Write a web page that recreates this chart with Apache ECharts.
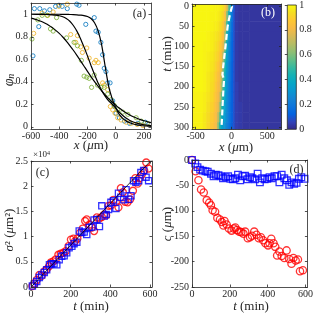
<!DOCTYPE html>
<html><head><meta charset="utf-8">
<script src="https://cdn.jsdelivr.net/npm/echarts@6/dist/echarts.min.js"></script>
<style>html,body{margin:0;padding:0;background:#fff}#c{width:316px;height:316px}</style>
</head><body><div id="c"></div>
<script>
// ---------- Panel (a): profiles ----------
const aBlueX = [-586,-576,-545,-538,-505,-467,-426,-402,-379,-343,-276,-260,-212,-152,-140,-124,-105,-93,-81,-69,-57,-40,-21,-10,2,26,62,98,157,210];
const aBlueY = [0.63,1.05,0.89,1.05,1.03,1.04,1.07,1.08,1.07,1.05,1.09,1.08,0.91,0.97,0.85,0.84,0.75,0.64,0.52,0.49,0.39,0.39,0.23,0.18,0.12,0.08,0.05,0.03,0.03,0.04];
const aOrangeX = [-581,-521,-481,-443,-402,-343,-319,-283,-271,-248,-236,-205,-188,-152,-140,-124,-93,-81,-57,-38,-21,-5,14,38,74,110,152,193];
const aOrangeY = [0.83,1.01,0.99,1.02,1.07,1.09,0.82,0.75,0.81,0.71,0.66,0.70,0.61,0.57,0.59,0.57,0.39,0.37,0.33,0.18,0.15,0.12,0.08,0.06,0.04,0.03,0.02,0.01];
const aGreenX = [-593,-552,-521,-486,-462,-443,-419,-348,-295,-271,-243,-224,-205,-188,-171,-152,-129,-105,-81,-57,-33,-10,14,50,86,145,181,224];
const aGreenY = [0.78,0.95,0.99,0.99,0.87,0.85,0.97,0.79,0.75,0.72,0.59,0.45,0.44,0.43,0.35,0.46,0.37,0.35,0.35,0.29,0.24,0.19,0.15,0.13,0.11,0.08,0.05,0.03];
const aFitX = [-600,-575,-550,-525,-500,-475,-450,-425,-400,-375,-350,-325,-300,-275,-250,-225,-200,-175,-150,-125,-100,-75,-50,-25,0,25,50,75,100,125,150,175,200,225,250];
const aFitAY = [1,1,1,1,1,1,1,1,1,0.999,0.999,0.998,0.997,0.995,0.992,0.988,0.98,0.962,0.925,0.855,0.73,0.54,0.36,0.25,0.17,0.11,0.075,0.05,0.035,0.024,0.016,0.011,0.008,0.006,0.004];
const aFitBY = [1,1,0.999,0.999,0.998,0.997,0.995,0.992,0.987,0.978,0.962,0.938,0.9,0.85,0.785,0.71,0.63,0.545,0.465,0.39,0.325,0.272,0.23,0.2,0.165,0.13,0.1,0.075,0.056,0.042,0.032,0.024,0.018,0.014,0.011];
const aFitCY = [0.965,0.957,0.947,0.935,0.92,0.903,0.882,0.857,0.83,0.798,0.762,0.722,0.68,0.635,0.588,0.54,0.492,0.446,0.402,0.36,0.32,0.283,0.25,0.22,0.192,0.166,0.143,0.123,0.105,0.089,0.075,0.063,0.053,0.044,0.037];
const aXTicks = [-600,-400,-200,0,200];
const aYTicks = [0,0.2,0.4,0.6,0.8,1];

// ---------- Panel (b): kymograph ----------
const bXEdges = [-550,-400,-350,-300,-250,-225,-200,-175,-150,-125,-100,-75,-50,-25,0,25,50,100,150,250,700];
const bTimes = [0,25,50,75,100,125,150,175,200,225,250,275,300];
const bPhi = [
 [0.99,0.99,0.99,0.99,0.98,0.98,0.98,0.97,0.96,0.94,0.88,0.78,0.58,0.40,0.22,0.09,0.04,0.03,0.03,0.03],
 [0.99,0.99,0.99,0.98,0.98,0.98,0.97,0.96,0.94,0.90,0.82,0.64,0.45,0.30,0.17,0.08,0.04,0.03,0.03,0.03],
 [0.99,0.99,0.99,0.98,0.97,0.97,0.96,0.94,0.91,0.85,0.74,0.52,0.37,0.25,0.15,0.08,0.04,0.03,0.03,0.03],
 [0.99,0.99,0.98,0.97,0.96,0.95,0.94,0.92,0.87,0.81,0.64,0.45,0.32,0.22,0.14,0.08,0.04,0.03,0.03,0.03],
 [0.99,0.98,0.98,0.97,0.95,0.94,0.92,0.89,0.84,0.76,0.56,0.40,0.29,0.20,0.13,0.08,0.04,0.03,0.03,0.03],
 [0.99,0.98,0.97,0.96,0.94,0.92,0.90,0.86,0.81,0.66,0.48,0.36,0.27,0.19,0.13,0.08,0.04,0.03,0.03,0.03],
 [0.99,0.98,0.97,0.95,0.93,0.90,0.87,0.83,0.78,0.58,0.43,0.33,0.25,0.18,0.12,0.08,0.04,0.03,0.03,0.03],
 [0.99,0.98,0.96,0.94,0.91,0.88,0.84,0.81,0.70,0.53,0.40,0.31,0.24,0.18,0.12,0.08,0.04,0.03,0.03,0.03],
 [0.99,0.98,0.96,0.93,0.90,0.86,0.82,0.80,0.66,0.50,0.38,0.30,0.23,0.17,0.12,0.08,0.05,0.03,0.03,0.03],
 [0.98,0.97,0.95,0.92,0.88,0.84,0.81,0.74,0.57,0.44,0.35,0.28,0.22,0.17,0.12,0.08,0.05,0.03,0.03,0.03],
 [0.98,0.97,0.94,0.90,0.86,0.82,0.79,0.66,0.49,0.40,0.33,0.27,0.21,0.16,0.12,0.08,0.05,0.04,0.03,0.03],
 [0.98,0.96,0.93,0.88,0.84,0.81,0.72,0.56,0.43,0.36,0.31,0.26,0.21,0.16,0.12,0.08,0.05,0.04,0.03,0.03],
 [0.98,0.96,0.92,0.86,0.82,0.80,0.64,0.46,0.37,0.32,0.28,0.24,0.20,0.15,0.11,0.08,0.05,0.04,0.03,0.03]
];
const bFrontT = [0,25,50,75,100,130,150,170,182,200,225,250,275,300];
const bFrontX = [10,-25,-52,-68,-82,-102,-115,-125,-102,-110,-117,-124,-130,-138];
const bXTicks = [-500,0,500];
const bYTicks = [0,50,100,150,200,250,300];
const cbTicks = [0,0.2,0.4,0.6,0.8,1];

// ---------- Panel (c): variance (x10^4 um^2) ----------
const cRedT = [7,17,29,42,54,67,79,91,101,113,125,138,150,163,175,189,201,214,222,234,248,261,273,281,295,307,318,332,345,357,369,379,391,403,416,428,441,453,463,475,487,500,514,526,538,548,559,571,581,593];
const cRedS = [0.02,0.07,0.14,0.24,0.22,0.31,0.35,0.41,0.49,0.51,0.55,0.64,0.66,0.68,0.71,0.81,0.94,0.96,0.91,0.96,1.08,1.16,1.31,1.34,1.24,1.18,1.11,1.38,1.36,1.39,1.44,1.42,1.61,1.62,1.73,1.68,1.58,1.96,1.88,1.69,1.68,1.74,1.91,2.16,2.05,2.16,2.23,2.31,2.47,2.35];
const cBlueT = [7,17,29,42,54,67,79,93,104,116,130,142,155,167,180,192,206,217,231,243,256,268,281,293,307,318,332,345,357,369,379,391,403,416,428,441,453,467,479,492,504,517,529,543,554,568,580,593];
const cBlueS = [0.02,0.06,0.11,0.19,0.24,0.29,0.34,0.44,0.46,0.46,0.44,0.54,0.61,0.62,0.68,0.78,0.81,0.86,0.89,1.11,1.08,1.09,1.04,1.18,1.19,1.33,1.34,1.20,1.61,1.41,1.44,1.54,1.68,1.71,1.56,1.86,1.78,1.73,1.93,1.74,1.81,2.11,2.08,2.11,2.27,2.31,2.18,2.11];
const cFitT = [0,610];
const cFitS = [0,2.53];
const cXTicks = [0,200,400,600];
const cYTicks = [0,0.5,1,1.5,2,2.5];

// ---------- Panel (d): centre position ----------
const dRedT = [0,19,34,48,62,78,91,100,109,122,134,148,157,166,172,183,195,209,221,229,238,250,260,272,281,295,307,317,329,341,353,364,376,388,402,410,419,431,440,450,462,474,488,500,514,526,536,548,560,571,586];
const dRedC = [0,-22,-40,-58,-64,-79,-84,-89,-99,-102,-114,-117,-122,-129,-120,-127,-135,-139,-135,-133,-138,-141,-142,-145,-141,-154,-152,-149,-141,-147,-154,-152,-158,-164,-168,-164,-155,-164,-171,-188,-180,-189,-193,-178,-195,-204,-193,-198,-196,-219,-217];
const dBlueT = [0,17,29,43,57,71,83,100,114,126,140,152,164,178,191,203,216,229,243,255,267,281,293,307,319,333,347,359,371,384,398,410,422,436,450,462,474,488,502,514,526,540,553,565,578,595];
const dBlueC = [0,-7,-14,-19,-21,-22,-23,-27,-32,-29,-30,-32,-36,-34,-32,-37,-38,-36,-29,-40,-32,-31,-38,-34,-36,-38,-27,-44,-36,-38,-37,-34,-36,-32,-32,-44,-29,-36,-40,-49,-44,-47,-45,-37,-34,-37];
const dXTicks = [0,200,400,600];
const dYTicks = [-250,-200,-150,-100,-50,0];

// ---------- styles ----------
const parula = ['#352A87','#3243BA','#0363E1','#0D75DC','#1485D4','#0998D1','#06A7C6','#15B1B4','#38B99E','#65BE86','#92BF73','#B7BD64','#D9BA56','#F8BB44','#FEC832','#F5DE21','#F9FB0E'];
const FONT = '"Liberation Serif", "Times New Roman", serif';
const AX = '#262626';
const zip = (xs, ys) => xs.map((v, i) => [v, ys[i]]);

function axis(gridIndex, min, max, ticks, position, labels, extra) {
  return Object.assign({
    type: 'value', gridIndex, min, max, position,
    axisLine: {show: true, onZero: false, lineStyle: {color: AX, width: 0.8}},
    axisTick: {show: true, inside: true, length: 2.5, customValues: ticks, lineStyle: {color: AX, width: 0.8}},
    axisLabel: {show: labels, customValues: ticks, fontFamily: FONT, fontSize: 10, color: AX,
      margin: (position === 'left' || position === 'right') ? 3 : 2},
    splitLine: {show: false}, z: 10
  }, extra || {});
}

const xAxis = [
  axis(0, -600, 250, aXTicks, 'bottom', true),
  axis(0, -600, 250, aXTicks, 'top', false),
  axis(1, -550, 700, bXTicks, 'bottom', true),
  axis(1, -550, 700, bXTicks, 'top', false),
  {type: 'value', gridIndex: 2, min: 0, max: 1, show: false},
  axis(3, 0, 610, cXTicks, 'bottom', true),
  axis(3, 0, 610, cXTicks, 'top', false),
  axis(4, 0, 610, dXTicks, 'bottom', true),
  axis(4, 0, 610, dXTicks, 'top', false)
];
const yAxis = [
  axis(0, -0.02, 1.1, aYTicks, 'left', true),
  axis(0, -0.02, 1.1, aYTicks, 'right', false),
  axis(1, -5, 305, bYTicks, 'left', true, {inverse: true}),
  axis(1, -5, 305, bYTicks, 'right', false, {inverse: true}),
  axis(2, 0, 1, cbTicks, 'right', true, {axisLine: {show: false}}),
  axis(3, 0, 2.5, cYTicks, 'left', true),
  axis(3, 0, 2.5, cYTicks, 'right', false),
  axis(4, -250, 0, dYTicks, 'left', true),
  axis(4, -250, 0, dYTicks, 'right', false)
];

const heatData = [];
bTimes.forEach((t, r) => {
  const half = (bTimes[1] - bTimes[0]) / 2;
  for (let j = 0; j < bXEdges.length - 1; j++) {
    heatData.push([bXEdges[j], bXEdges[j + 1], t - half, t + half, bPhi[r][j]]);
  }
});

function renderCell(params, api) {
  const a = api.coord([api.value(0), api.value(2)]);
  const b = api.coord([api.value(1), api.value(3)]);
  const cs = params.coordSys;
  const shape = echarts.graphic.clipRectByRect(
    {x: Math.min(a[0], b[0]), y: Math.min(a[1], b[1]), width: Math.abs(b[0] - a[0]) + 0.6, height: Math.abs(b[1] - a[1]) + 0.6},
    {x: cs.x, y: cs.y, width: cs.width, height: cs.height});
  return shape && {type: 'rect', shape, style: {fill: api.visual('color')}};
}
function renderBar(params, api) {
  const a = api.coord([api.value(0), api.value(2)]);
  const b = api.coord([api.value(1), api.value(3)]);
  const grad = new echarts.graphic.LinearGradient(0, 1, 0, 0,
    parula.map((c, i) => ({offset: i / (parula.length - 1), color: c})));
  return {type: 'rect', shape: {x: Math.min(a[0], b[0]), y: Math.min(a[1], b[1]), width: Math.abs(b[0] - a[0]), height: Math.abs(b[1] - a[1])},
    style: {fill: grad, stroke: AX, lineWidth: 0.8}};
}

function scat(data, xi, yi, color, symbol, size, bw) {
  return {type: 'scatter', xAxisIndex: xi, yAxisIndex: yi, data, symbol, symbolSize: size,
    itemStyle: {color: 'rgba(0,0,0,0)', borderColor: color, borderWidth: bw}, silent: true};
}
function fit(data, xi, yi, w) {
  return {type: 'line', xAxisIndex: xi, yAxisIndex: yi, data, showSymbol: false, symbol: 'none',
    smooth: 0.3, lineStyle: {color: '#000', width: w}, z: 4};
}

const series = [
  scat(zip(aBlueX, aBlueY), 0, 0, '#0072BD', 'circle', 4.2, 1),
  scat(zip(aOrangeX, aOrangeY), 0, 0, '#EDB120', 'circle', 4.2, 1),
  scat(zip(aGreenX, aGreenY), 0, 0, '#77AC30', 'circle', 4.2, 1),
  fit(zip(aFitX, aFitAY), 0, 0, 1.2),
  fit(zip(aFitX, aFitBY), 0, 0, 1.2),
  fit(zip(aFitX, aFitCY), 0, 0, 1.2),
  {type: 'custom', xAxisIndex: 2, yAxisIndex: 2, data: heatData, renderItem: renderCell,
    encode: {x: [0, 1], y: [2, 3]}, silent: true},
  {type: 'line', xAxisIndex: 2, yAxisIndex: 2, data: zip(bFrontX, bFrontT), showSymbol: false, symbol: 'none',
    lineStyle: {color: '#fff', width: 2.2, type: [6, 3.5]}, z: 5},
  {type: 'custom', xAxisIndex: 4, yAxisIndex: 4, data: [[0, 1, 0, 1]], renderItem: renderBar, silent: true},
  scat(zip(cRedT, cRedS), 5, 5, '#FF0000', 'circle', 7, 1.3),
  scat(zip(cBlueT, cBlueS), 5, 5, '#0000FF', 'rect', 6.2, 1.3),
  {type: 'line', xAxisIndex: 5, yAxisIndex: 5, data: zip(cFitT, cFitS), showSymbol: false, symbol: 'none',
    lineStyle: {color: '#000', width: 0.8}, z: 4},
  scat(zip(dRedT, dRedC), 7, 7, '#FF0000', 'circle', 7.3, 1.3),
  scat(zip(dBlueT, dBlueC), 7, 7, '#0000FF', 'rect', 6.6, 1.3)
];

function txt(x, y, text, size, rot, fill) {
  return {type: 'text', x, y, rotation: rot ? Math.PI / 2 : 0, z: 100, silent: true,
    style: {text, fill: fill || AX, fontFamily: FONT, fontSize: size, align: 'center', verticalAlign: 'middle',
      textAlign: 'center', textVerticalAlign: 'middle',
      rich: {
        i: {fontStyle: 'italic', fontFamily: FONT, fontSize: size, fill: fill || AX},
        sub: {fontStyle: 'italic', fontFamily: FONT, fontSize: Math.round(size * 0.72), fill: fill || AX, verticalAlign: 'bottom'},
        sup: {fontFamily: FONT, fontSize: Math.round(size * 0.72), fill: fill || AX, verticalAlign: 'top'}
      }}};
}

const graphic = [
  txt(9, 80, '{i|φ}{sub|n}', 14, true),
  txt(91, 146, '{i|x} ({i|μ}m)', 13),
  txt(168, 54, '{i|t} (min)', 13, true),
  txt(236, 148, '{i|x} ({i|μ}m)', 13),
  txt(10, 230, '{i|σ}² ({i|μ}m²)', 13, true),
  txt(91, 307, '{i|t} (min)', 13),
  txt(168, 224, '{i|c} ({i|μ}m)', 13, true),
  txt(251, 307, '{i|t} (min)', 13),
  txt(139.5, 14, '(a)', 12),
  txt(268, 13, '(b)', 12, false, '#ffffff'),
  txt(42.5, 173, '(c)', 12),
  txt(296.5, 170, '(d)', 12),
  txt(41.5, 155, '×10{sup|4}', 9)
];

const chart = echarts.init(document.getElementById('c'), null, {renderer: 'canvas'});
chart.setOption({
  animation: false,
  backgroundColor: '#fff',
  grid: [
    {left: 31, top: 3, width: 120, height: 126},
    {left: 192, top: 4, width: 89.5, height: 125.3},
    {left: 287.3, top: 4, width: 9, height: 125.3},
    {left: 31, top: 161, width: 121, height: 126},
    {left: 192, top: 160, width: 118, height: 127}
  ],
  xAxis, yAxis,
  visualMap: {type: 'continuous', show: false, min: 0, max: 1, dimension: 4, seriesIndex: 6,
    inRange: {color: parula}},
  series, graphic
});
</script></body></html>
